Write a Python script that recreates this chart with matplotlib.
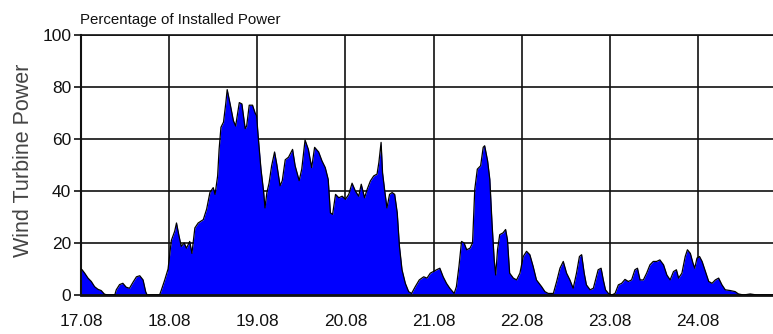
import matplotlib
matplotlib.use("Agg")
import matplotlib.pyplot as plt

# hours since 17.08 00:00 and wind power in % of installed capacity
hours = [0.0, 0.3, 1.0, 1.9, 2.8, 3.7, 4.6, 5.5, 6.4, 7.3, 9.2, 9.6, 10.5, 11.4, 12.3, 13.2,
         14.2, 15.1, 16.0, 16.9, 17.6, 18.0, 21.4, 21.9, 22.8, 23.7, 24.6, 25.5, 26.0, 26.7,
         27.3, 28.1, 28.7, 29.6, 30.2, 31.0, 31.9, 33.3, 34.2, 35.1, 36.0, 36.5, 37.2, 37.6,
         38.1, 38.8, 39.4, 39.8, 40.6, 41.5, 42.1, 43.1, 43.8, 44.7, 45.1, 45.8, 46.7, 47.4,
         47.8, 48.3, 49.0, 49.7, 50.1, 50.6, 51.2, 51.9, 52.7, 53.3, 54.2, 54.8, 55.6, 56.5,
         57.6, 58.3, 59.4, 60.1, 61.0, 61.9, 62.8, 63.6, 64.7, 65.6, 66.5, 67.3, 67.9, 68.5,
         69.3, 70.2, 71.1, 72.0, 72.9, 73.8, 74.7, 75.6, 76.3, 77.2, 77.9, 78.8, 79.7, 80.6,
         81.1, 81.7, 82.1, 82.7, 83.3, 84.0, 84.7, 85.4, 86.1, 86.7, 87.4, 88.3, 89.2, 90.0,
         91.0, 92.1, 93.3, 94.2, 95.1, 95.9, 96.8, 97.7, 98.6, 99.5, 100.4, 101.6, 102.2, 102.9,
         103.6, 104.3, 105.0, 105.9, 106.6, 107.2, 107.9, 108.8, 109.5, 109.9, 110.7, 111.3,
         111.9, 112.5, 112.9, 113.4, 114.0, 114.9, 115.6, 116.1, 116.7, 117.7, 118.6, 119.5,
         120.4, 121.3, 122.2, 123.1, 124.0, 125.4, 126.3, 127.2, 128.6, 129.5, 130.4, 131.3,
         132.2, 133.1, 134.0, 134.9, 135.7, 136.3, 137.0, 137.6, 138.6, 139.5, 140.1, 140.8,
         141.6, 142.2, 142.8, 143.6, 144.5, 145.4, 146.3, 147.2, 148.1, 149.0, 149.9, 150.8,
         151.5, 152.2, 153.1, 154.0, 154.9, 155.8, 156.7, 157.6, 158.6, 159.5, 160.4, 161.3,
         162.1, 162.7, 163.6, 164.5, 165.1, 165.9, 166.6, 167.1, 167.7, 168.4, 169.1, 170.0,
         170.9, 171.8, 172.7, 173.6, 174.5, 175.4, 176.8, 178.1, 179.0, 180.4, 182.2, 184.0,
         188.4]
power = [10.0, 9.7, 8.4, 6.5, 5.2, 3.2, 2.2, 1.7, 0.3, 0.0, 0.0, 2.0, 4.0, 4.5, 3.0, 2.6,
         5.0, 7.0, 7.4, 5.8, 1.3, 0.0, 0.0, 2.0, 5.8, 10.0, 21.0, 24.5, 27.7, 22.6,
         18.7, 20.0, 18.0, 20.6, 16.0, 25.8, 27.7, 29.0, 33.0, 39.4, 41.3, 38.7, 45.8, 56.0,
         64.5, 66.5, 73.5, 79.0, 73.5, 67.0, 65.0, 74.0, 73.5, 64.0, 65.0, 73.0, 73.0, 70.0,
         69.0, 60.0, 48.4, 40.0, 33.5, 39.4, 43.0, 49.7, 55.0, 50.3, 42.0, 44.0, 52.0, 53.0,
         56.0, 49.7, 44.0, 48.4, 59.6, 56.0, 49.0, 56.8, 55.0, 51.6, 49.0, 44.5, 31.6, 31.0,
         38.7, 37.4, 38.0, 36.8, 38.7, 43.0, 40.0, 38.0, 42.6, 37.4, 40.6, 43.9, 45.8, 46.5,
         51.0, 58.7, 47.0, 40.0, 33.5, 38.7, 39.4, 38.7, 31.6, 18.7, 9.7, 4.5, 1.3, 0.6,
         3.2, 5.8, 7.0, 6.5, 8.4, 9.0, 9.7, 10.3, 7.0, 4.5, 2.6, 0.6, 3.2, 11.0,
         20.6, 20.0, 17.4, 18.0, 20.0, 40.6, 48.4, 49.7, 56.8, 57.4, 51.6, 44.5,
         27.7, 13.5, 7.7, 17.4, 23.2, 23.9, 25.2, 21.3, 8.4, 6.5, 5.8, 8.4,
         14.8, 16.8, 15.5, 11.0, 5.8, 3.2, 1.3, 0.6, 0.6, 5.2, 10.3, 12.9,
         8.4, 5.8, 2.6, 8.4, 14.8, 15.5, 8.4, 3.9, 2.0, 2.6, 5.8, 9.7,
         10.3, 5.8, 2.0, 0.6, 0.0, 0.6, 3.9, 4.5, 6.0, 5.2, 5.8, 9.7,
         10.3, 5.8, 5.8, 8.4, 11.6, 12.9, 12.9, 13.5, 11.6, 7.7, 5.8, 9.0,
         9.7, 6.5, 8.4, 14.8, 17.4, 16.0, 12.3, 10.3, 14.2, 14.8, 12.9, 9.0,
         5.2, 4.5, 5.8, 6.5, 3.9, 2.0, 1.7, 1.3, 0.4, 0.0, 0.4, 0.0,
         0.0]

day_ticks = [0, 24, 48, 72, 96, 120, 144, 168]
day_labels = ['17.08', '18.08', '19.08', '20.08', '21.08', '22.08', '23.08', '24.08']
y_ticks = [0, 20, 40, 60, 80, 100]

plt.rcParams['font.family'] = ['Liberation Sans', 'DejaVu Sans']

fig = plt.figure(figsize=(7.73, 3.34), dpi=100)
ax = fig.add_axes([81 / 773, 39 / 334, 692 / 773, 260 / 334])

ax.fill_between(hours, power, 0, color='#0000ff', lw=0, zorder=2)
ax.plot(hours, power, color='black', lw=0.9, zorder=3)

ax.set_xlim(0, 188.4)
ax.set_ylim(0, 100)
ax.set_xticks(day_ticks)
ax.set_xticklabels(day_labels)
ax.set_yticks(y_ticks)

ax.set_axisbelow(True)
ax.grid(True, color='#111111', lw=1.2)
ax.tick_params(axis='x', length=0, pad=14, labelsize=12.5, colors='#111111')
ax.tick_params(axis='y', length=5, width=1.2, pad=2, labelsize=12.5, colors='#111111')

ax.spines['right'].set_visible(False)
ax.spines['top'].set_linewidth(1.2)
ax.spines['left'].set_linewidth(1.5)
ax.spines['bottom'].set_linewidth(2.0)
for s in ax.spines.values():
    s.set_color('#111111')

fig.text(80 / 773, 1 - 20 / 334, 'Percentage of Installed Power', fontsize=10.8,
         va='center', ha='left', color='#111111')
fig.text(24 / 773, 1 - 160 / 334, 'Wind Turbine Power', rotation=90, fontsize=15.5,
         va='center', ha='center', color='#444444')

fig.savefig('out.png', dpi=100)
